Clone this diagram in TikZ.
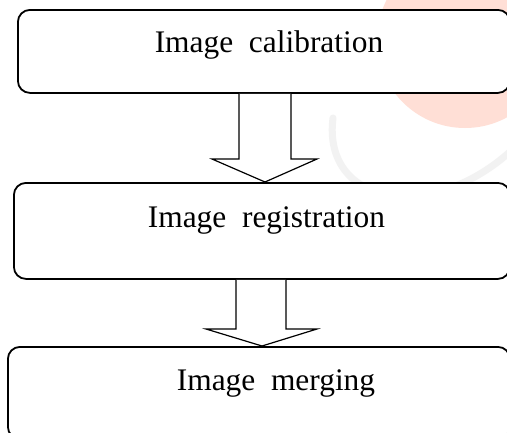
\documentclass[tikz,border=0pt]{standalone}
\usepackage{fontspec}
\setmainfont{Liberation Serif}
\begin{document}
\begin{tikzpicture}[x=1pt,y=-1pt,
  box/.style={draw=black, line width=1.8pt, rounded corners=12pt, fill=white, inner sep=0pt},
  lbl/.style={anchor=base, inner sep=0pt, font=\fontsize{31.4}{36}\selectfont},
  blockarrow/.style={draw=black, line width=1.2pt, fill=white, line join=miter}]
\useasboundingbox (0,0) rectangle (507,432);
\clip (0,0) rectangle (507,432);
\fill[white] (0,0) rectangle (507,432);
% faint watermark
\fill[red!55!orange!16] (465,40) circle (88);
\draw[black!5, line width=7pt, line cap=round] (333,118) .. controls (322,205) and (430,225) .. (512,150);
% boxes
\node[box, anchor=north west, minimum width=492pt, minimum height=83pt] (b1) at (17,9) {};
\node[box, anchor=north west, minimum width=496pt, minimum height=96pt] (b2) at (13,182) {};
\node[box, anchor=north west, minimum width=502pt, minimum height=92pt] (b3) at (7,346) {};
% labels
\node[lbl] (t1) at (269,52) {Image\ \ calibration};
\node[lbl] (t2) at (266.5,227) {Image\ \ registration};
\node[lbl] (t3) at (276,390) {Image\ \ merging};
% block arrows
\draw[blockarrow] (239,0 |- b1.south) -- (239,159) -- (212,159) -- (265,0 |- b2.north) -- (317,159) -- (291,159) -- (291,0 |- b1.south);
\draw[blockarrow] (236,0 |- b2.south) -- (236,329) -- (206,329) -- (262,0 |- b3.north) -- (317,329) -- (286,329) -- (286,0 |- b2.south);
\end{tikzpicture}
\end{document}
